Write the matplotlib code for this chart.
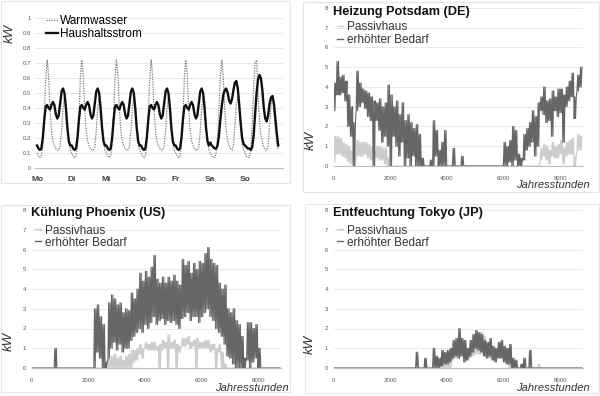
import numpy as np
import matplotlib
matplotlib.use("Agg")
import matplotlib.pyplot as plt
from matplotlib.patches import Rectangle
from matplotlib.lines import Line2D

plt.rcParams['font.family'] = ['Liberation Sans', 'DejaVu Sans']

# ---------------- Panel 1: weekly profiles (hourly) ----------------
days = ["Mo", "Di", "Mi", "Do", "Fr", "Sa", "So"]
ww_weekday = [0.10, 0.08, 0.07, 0.08, 0.15, 0.35, 0.60, 0.72, 0.62, 0.40, 0.25, 0.18,
              0.15, 0.13, 0.12, 0.12, 0.14, 0.25, 0.40, 0.47, 0.42, 0.28, 0.17, 0.12]
ww_sa = [0.10, 0.08, 0.07, 0.07, 0.10, 0.20, 0.40, 0.62, 0.72, 0.60, 0.38, 0.25,
         0.18, 0.15, 0.13, 0.12, 0.15, 0.28, 0.42, 0.47, 0.40, 0.26, 0.16, 0.12]
ww_so = [0.10, 0.08, 0.07, 0.07, 0.12, 0.30, 0.55, 0.70, 0.72, 0.50, 0.32, 0.22,
         0.17, 0.14, 0.12, 0.12, 0.15, 0.28, 0.42, 0.47, 0.40, 0.26, 0.16, 0.12]
hh_weekday = [0.15, 0.13, 0.12, 0.13, 0.20, 0.32, 0.41, 0.42, 0.40, 0.39, 0.42, 0.44,
              0.42, 0.36, 0.33, 0.35, 0.43, 0.51, 0.53, 0.50, 0.40, 0.27, 0.18, 0.15]
hh_sa = [0.17, 0.15, 0.14, 0.13, 0.13, 0.15, 0.22, 0.33, 0.42, 0.49, 0.52, 0.53,
         0.50, 0.45, 0.43, 0.46, 0.52, 0.57, 0.58, 0.53, 0.42, 0.30, 0.20, 0.16]
hh_so = [0.15, 0.14, 0.13, 0.13, 0.12, 0.14, 0.22, 0.36, 0.50, 0.59, 0.62, 0.60,
         0.52, 0.40, 0.33, 0.31, 0.35, 0.43, 0.47, 0.48, 0.43, 0.33, 0.23, 0.15]

warmwasser = ww_weekday * 5 + ww_sa + ww_so
haushalt = hh_weekday * 5 + hh_sa + hh_so

# ---------------- Annual panels: envelope (low / high) per 100 h ----------------
hours = np.arange(0, 8800, 100)  # 88 blocks

def blocks(d):
    arr = np.zeros(len(hours))
    for k, v in d.items():
        arr[k // 100] = v
    return arr

# Heizung Potsdam
pot_erh_hi = blocks({0: 4.2, 100: 5.3, 200: 4.5, 300: 4.6, 400: 4.3, 500: 3.6, 600: 3.0, 700: 2.2,
                     800: 4.8, 900: 4.2, 1000: 3.9, 1100: 3.8, 1200: 3.7, 1300: 3.5, 1400: 3.3,
                     1500: 3.2, 1600: 3.4, 1700: 3.0, 1800: 3.2, 1900: 4.1, 2000: 3.6, 2100: 3.0,
                     2200: 3.3, 2300: 2.6, 2400: 3.2, 2500: 2.3, 2600: 2.6, 2700: 2.2, 2800: 1.9,
                     2900: 2.1, 3000: 1.6, 3100: 0.4, 3400: 0.3, 3500: 2.3, 3600: 1.8, 3700: 0.8,
                     3800: 1.2, 3900: 1.8, 4200: 0.9, 4500: 0.5, 6000: 1.2, 6100: 1.0, 6200: 1.3,
                     6300: 2.0, 6400: 1.8, 6500: 0.6, 6600: 0.4, 6700: 1.6, 6800: 1.9, 6900: 2.2,
                     7000: 2.8, 7100: 2.5, 7200: 3.2, 7300: 3.5, 7400: 4.0, 7500: 3.3, 7600: 3.4,
                     7700: 3.8, 7800: 3.5, 7900: 3.9, 8000: 3.9, 8100: 3.6, 8200: 4.0, 8300: 4.3,
                     8400: 4.7, 8500: 3.5, 8600: 4.6, 8700: 5.0})
pot_erh_lo = blocks({0: 2.8, 100: 3.6, 200: 3.6, 300: 3.7, 400: 3.3, 500: 2.0, 600: 1.5,
                     800: 2.8, 900: 3.0, 1000: 3.2, 1100: 2.9, 1200: 2.5, 1300: 2.3,
                     1500: 2.3, 1600: 1.8, 1700: 1.2, 1800: 1.5, 1900: 1.0, 2100: 1.5, 2200: 1.0,
                     2300: 0.5, 2400: 1.2, 2600: 0.4, 2800: 0.5, 3600: 0.5, 6200: 0.2, 6400: 0.3,
                     6700: 0.3, 6800: 0.8, 6900: 1.0, 7000: 1.2, 7100: 0.5, 7200: 1.0, 7300: 2.8,
                     7400: 2.6, 7500: 2.2, 7600: 2.3, 7700: 1.5, 7800: 2.8, 7900: 2.5, 8000: 2.7,
                     8100: 1.2, 8200: 3.0, 8300: 3.3, 8400: 3.5, 8500: 2.4, 8600: 3.8, 8700: 4.0})
pot_pas_hi = blocks({0: 1.5, 100: 1.5, 200: 1.4, 300: 1.2, 400: 1.1, 500: 1.0, 600: 0.8,
                     800: 1.3, 900: 1.2, 1000: 1.2, 1100: 1.2, 1200: 1.1, 1300: 1.0, 1400: 0.8,
                     1500: 1.0, 1600: 1.0, 1700: 0.9, 1800: 0.9, 1900: 0.4, 7300: 0.9, 7400: 1.1,
                     7500: 1.0, 7600: 0.8, 7700: 1.2, 7800: 1.0, 7900: 1.1, 8000: 1.3, 8100: 0.9,
                     8200: 1.2, 8300: 1.3, 8400: 1.4, 8500: 0.5, 8600: 1.6, 8700: 1.5})
pot_pas_lo = blocks({0: 0.2, 100: 0.6, 200: 0.6, 300: 0.5, 400: 0.4, 500: 0.2, 600: 0.1,
                     800: 0.5, 900: 0.5, 1000: 0.5, 1100: 0.6, 1200: 0.4, 1300: 0.3, 1500: 0.4,
                     1600: 0.3, 1700: 0.3, 1800: 0.1, 7300: 0.3, 7400: 0.5, 7500: 0.3, 7600: 0.1,
                     7700: 0.5, 7800: 0.4, 7900: 0.4, 8000: 0.6, 8100: 0.1, 8200: 0.5, 8300: 0.6,
                     8400: 0.6, 8600: 0.8, 8700: 0.8})

# Kuehlung Phoenix
phx_erh_hi = blocks({800: 1.0, 2200: 3.0, 2300: 3.2, 2400: 2.6, 2500: 2.2, 2600: 0.3, 2700: 3.3,
                     2800: 3.7, 2900: 3.5, 3000: 3.2, 3100: 3.3, 3200: 2.8, 3300: 3.0, 3400: 2.9,
                     3500: 3.8, 3600: 3.5, 3700: 4.0, 3800: 4.8, 3900: 4.4, 4000: 4.9, 4100: 4.6,
                     4200: 5.1, 4300: 5.7, 4400: 4.5, 4500: 4.3, 4600: 4.6, 4700: 4.3, 4800: 4.6,
                     4900: 4.4, 5000: 4.7, 5100: 4.4, 5200: 4.2, 5300: 5.5, 5400: 5.2, 5500: 5.4,
                     5600: 4.8, 5700: 5.3, 5800: 5.0, 5900: 5.4, 6000: 5.3, 6100: 5.8, 6200: 6.1,
                     6300: 5.5, 6400: 5.3, 6500: 5.2, 6600: 4.3, 6700: 4.0, 6800: 4.2, 6900: 3.0,
                     7000: 2.8, 7100: 3.0, 7200: 2.4, 7300: 2.2, 7400: 1.6, 7500: 0.5, 7600: 2.3,
                     7700: 2.3, 7800: 2.0, 7900: 2.2, 8000: 1.0})
phx_erh_lo = blocks({2300: 0.8, 2400: 0.5, 2700: 0.5, 2800: 1.0, 2900: 1.3, 3000: 0.9, 3100: 1.2,
                     3200: 0.8, 3300: 1.0, 3400: 1.0, 3500: 1.4, 3600: 1.6, 3700: 1.8, 3800: 2.0,
                     3900: 1.8, 4000: 2.2, 4100: 2.0, 4200: 2.3, 4300: 2.6, 4400: 2.2, 4500: 2.4,
                     4600: 2.5, 4700: 2.2, 4800: 2.4, 4900: 2.3, 5000: 2.4, 5100: 2.2, 5200: 2.0,
                     5300: 2.5, 5400: 2.6, 5500: 2.8, 5600: 2.4, 5700: 2.6, 5800: 2.6, 5900: 2.3,
                     6000: 2.6, 6100: 2.8, 6200: 3.0, 6300: 2.6, 6400: 2.4, 6500: 2.0, 6600: 1.8,
                     6700: 1.6, 6800: 1.2, 6900: 0.6, 7000: 0.5, 7100: 0.2, 7600: 0.4, 7800: 0.3,
                     7900: 0.5})
phx_pas_hi = blocks({2700: 0.5, 2800: 0.6, 2900: 0.7, 3000: 0.5, 3100: 0.6, 3200: 0.4, 3300: 0.6,
                     3400: 0.7, 3500: 0.9, 3600: 0.9, 3700: 1.0, 3800: 1.2, 3900: 1.0, 4000: 1.3,
                     4100: 1.2, 4200: 1.3, 4300: 1.3, 4400: 1.1, 4500: 1.2, 4600: 1.4, 4700: 1.3,
                     4800: 1.7, 4900: 1.3, 5000: 1.4, 5100: 1.2, 5200: 1.1, 5300: 1.5, 5400: 1.5,
                     5500: 1.6, 5600: 1.3, 5700: 1.4, 5800: 1.5, 5900: 1.3, 6000: 1.3, 6100: 1.4,
                     6200: 1.4, 6300: 1.2, 6400: 1.2, 6500: 1.0, 6600: 1.2, 6700: 0.8, 6800: 0.2})
phx_pas_lo = blocks({3600: 0.3, 3700: 0.4, 3800: 0.7, 3900: 0.5, 4000: 1.0, 4100: 0.9, 4200: 0.9,
                     4300: 0.9, 4400: 0.9, 4600: 0.9, 4700: 1.0, 4900: 1.0, 5000: 1.0, 5200: 0.8,
                     5300: 1.1, 5400: 1.1, 5500: 1.2, 5600: 1.0, 5700: 1.1, 5900: 1.0, 6000: 1.0,
                     6100: 1.0, 6200: 1.0, 6300: 0.8, 6400: 0.9, 6600: 0.8})

# Entfeuchtung Tokyo
tok_erh_hi = blocks({2900: 0.8, 3200: 0.5, 3500: 1.0, 3600: 0.6, 3700: 0.5, 3800: 0.9, 3900: 0.8,
                     4000: 0.9, 4100: 1.0, 4200: 1.4, 4300: 1.5, 4400: 2.0, 4500: 1.5, 4600: 1.4,
                     4700: 1.0, 4800: 1.4, 4900: 1.7, 5000: 1.9, 5100: 1.8, 5200: 1.7, 5300: 1.4,
                     5400: 1.3, 5500: 1.5, 5600: 1.1, 5700: 1.0, 5800: 1.3, 5900: 1.4, 6000: 1.1,
                     6100: 1.0, 6200: 1.2, 6300: 0.5, 6400: 0.4, 6600: 0.2, 6700: 0.5, 6900: 0.9})
tok_erh_lo = blocks({3800: 0.1, 3900: 0.2, 4000: 0.2, 4100: 0.3, 4200: 0.5, 4300: 0.6, 4400: 0.5,
                     4500: 0.6, 4600: 0.3, 4700: 0.4, 4800: 0.6, 4900: 0.8, 5000: 1.0, 5100: 0.9,
                     5200: 0.8, 5300: 0.6, 5400: 0.5, 5500: 0.6, 5600: 0.4, 5700: 0.3, 5800: 0.5,
                     5900: 0.5, 6000: 0.3, 6100: 0.2, 6200: 0.2})
tok_pas_hi = blocks({3800: 0.5, 3900: 0.5, 4000: 0.6, 4100: 0.7, 4200: 1.0, 4300: 1.2, 4400: 1.4,
                     4500: 1.3, 4600: 1.0, 4700: 0.8, 4800: 1.1, 4900: 1.3, 5000: 1.6, 5100: 1.7,
                     5200: 1.8, 5300: 1.6, 5400: 1.2, 5500: 1.0, 5600: 0.9, 5700: 0.9, 5800: 1.0,
                     5900: 1.1, 6000: 0.9, 6100: 0.8, 6200: 0.6, 7200: 0.2})
tok_pas_lo = blocks({4200: 0.4, 4300: 0.5, 4400: 0.5, 4500: 0.6, 4600: 0.4, 4700: 0.4, 4800: 0.5,
                     4900: 0.6, 5000: 0.7, 5100: 0.7, 5200: 0.7, 5300: 0.6, 5400: 0.5, 5500: 0.5,
                     5600: 0.4, 5700: 0.4, 5800: 0.5, 5900: 0.5, 6000: 0.4, 6100: 0.3})

titles = ["Heizung Potsdam (DE)", "Kühlung Phoenix (US)", "Entfeuchtung Tokyo (JP)"]
series_labels = ["Passivhaus", "erhöhter Bedarf"]

C_PAS = "#cdcdcd"
C_ERH = "#666666"
C_TICK = "#595959"
C_GRID = "#e9e9e9"
C_AXIS = "#bfbfbf"

W, H = 600, 396
fig = plt.figure(figsize=(6, 3.96), dpi=100)

def fx(px):
    return px / W

def fy(py):
    return 1 - py / H

# panel frames
for (x0, y0, x1, y1) in [(1, 1, 290, 183), (303, 2, 599, 192), (1, 205, 290, 392), (305, 204, 599, 393)]:
    fig.patches.append(Rectangle((fx(x0), fy(y1)), fx(x1 - x0), (y1 - y0) / H,
                                 transform=fig.transFigure, fill=False,
                                 edgecolor="#e6e6e6", lw=0.8))

# ---------- Panel 1 ----------
ax1 = fig.add_axes([fx(35), fy(168), fx(248), 150 / H])
t = np.arange(len(haushalt))
ax1.plot(t, warmwasser, ls=(0, (1, 1)), color="#7a7a7a", lw=0.9, label="Warmwasser")
ax1.plot(t, haushalt, color="#111111", lw=1.7, label="Haushaltsstrom")
ax1.set_xlim(-1.4, 170.3)
ax1.set_ylim(0, 1)
ax1.set_yticks(np.round(np.arange(0, 1.01, 0.1), 1))
ax1.set_yticklabels(["0"] + [f"{v:.1f}" for v in np.arange(0.1, 0.95, 0.1)] + ["1"])
ax1.set_xticks(np.arange(0, 168, 24))
ax1.set_xticklabels(days, fontweight="bold")
ax1.tick_params(axis="y", length=0, pad=3, labelsize=4.3, labelcolor=C_TICK)
ax1.tick_params(axis="x", length=0, pad=5.5, labelsize=6, labelcolor="#404040")
ax1.grid(axis="y", color=C_GRID, lw=0.7)
ax1.set_axisbelow(True)
for s in ["top", "right", "left"]:
    ax1.spines[s].set_visible(False)
ax1.spines["bottom"].set_color(C_AXIS)
ax1.spines["bottom"].set_linewidth(0.8)
ax1.legend(loc="upper left", bbox_to_anchor=(fx(46), fy(15)), bbox_transform=fig.transFigure,
           frameon=False, fontsize=8.5, handlelength=1.0, handletextpad=0.2,
           labelspacing=0.1, borderpad=0, borderaxespad=0)
fig.text(fx(10), fy(33), "kW", rotation=90, style="italic", fontsize=9.5,
         ha="center", va="center", color="#333333")

# ---------- Annual panels ----------
annual = [
    (pot_pas_lo, pot_pas_hi, pot_erh_lo, pot_erh_hi),
    (phx_pas_lo, phx_pas_hi, phx_erh_lo, phx_erh_hi),
    (tok_pas_lo, tok_pas_hi, tok_erh_lo, tok_erh_hi),
]
# (axes left px, axes bottom px, title y px, kW x/y px, legend top px, legend spacing, Jahresstunden right/y px)
geo = [
    (333.5, 166, 11.7, (311, 140), 21.5, 0.08, (590, 185)),
    (31.5, 368, 213, (8.5, 341), 224.5, 0.0, (289, 388)),
    (333.5, 368, 213, (310, 344), 224.5, 0.0, (590, 388)),
]
scale = 226.5 / 8000.0  # px per hour
offs = np.array([0, 25, 50, 75])
for (plo, phi, elo, ehi), title, (lx, by, ty, (kx, ky), lty, lsp, (jx, jy)) in zip(annual, titles, geo):
    ax = fig.add_axes([fx(lx), fy(by), fx(8800 * scale), 158 / H])
    xs = (hours[:, None] + offs[None, :]).ravel()
    ax.plot(xs, np.column_stack([plo, phi, plo, phi]).ravel(), color=C_PAS, lw=0.8)
    ax.plot(xs, np.column_stack([elo, ehi, elo, ehi]).ravel(), color=C_ERH, lw=0.8)
    ax.set_xlim(0, 8800)
    ax.set_ylim(0, 8)
    ax.set_yticks(range(0, 9))
    ax.set_xticks([0, 2000, 4000, 6000, 8000])
    ax.tick_params(axis="y", length=0, pad=4, labelsize=4.3, labelcolor=C_TICK)
    ax.tick_params(axis="x", length=0, pad=7, labelsize=4.3, labelcolor=C_TICK)
    ax.grid(axis="y", color=C_GRID, lw=0.7)
    ax.set_axisbelow(True)
    for s in ["top", "right", "left"]:
        ax.spines[s].set_visible(False)
    ax.spines["bottom"].set_color(C_AXIS)
    ax.spines["bottom"].set_linewidth(0.8)
    handles = [Line2D([], [], color=C_PAS, lw=1.0), Line2D([], [], color=C_ERH, lw=1.0)]
    leg = ax.legend(handles, series_labels, loc="upper left", bbox_to_anchor=(fx(lx + 3), fy(lty)),
                    bbox_transform=fig.transFigure, frameon=False, fontsize=8.5,
                    handlelength=0.55, handletextpad=0.3, labelspacing=lsp,
                    borderpad=0, borderaxespad=0)
    for txt in leg.get_texts():
        txt.set_color("#333333")
    fig.text(fx(lx - 0.5), fy(ty), title, fontsize=9.2, fontweight="bold",
             ha="left", va="center", color="#111111")
    fig.text(fx(kx), fy(ky), "kW", rotation=90, style="italic", fontsize=9.5,
             ha="center", va="center", color="#333333")
    fig.text(fx(jx), fy(jy), "Jahresstunden", style="italic", fontsize=8,
             ha="right", va="center", color="#333333")

fig.savefig("out.png", dpi=100)
